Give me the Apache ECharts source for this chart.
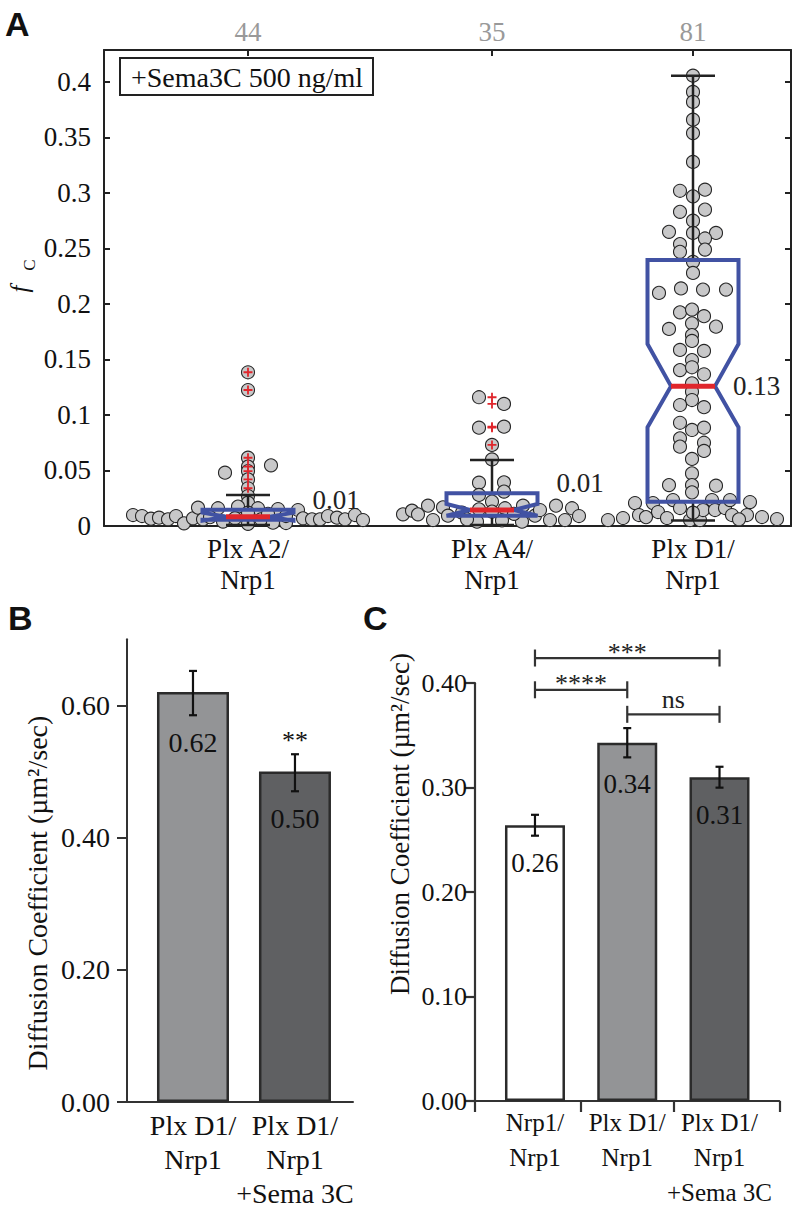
<!DOCTYPE html>
<html><head><meta charset="utf-8">
<script src="https://cdn.jsdelivr.net/npm/echarts@6/dist/echarts.min.js"></script>
<style>html,body{margin:0;padding:0;background:#fff}#c{width:793px;height:1210px}</style>
</head><body><div id="c"></div>
<script>
// ---------------- Panel A data ----------------
const groupsA = ['Plx A2/\nNrp1', 'Plx A4/\nNrp1', 'Plx D1/\nNrp1'];
const posA = [1.44, 3.88, 5.89];
const countsA = ['44', '35', '81'];
const yTicksA = [0, 0.05, 0.1, 0.15, 0.2, 0.25, 0.3, 0.35, 0.4];
// [whiskerLow, q1, notchLow, median, notchHigh, q3, whiskerHigh]
const boxA2 = [0.001, 0.0057, 0.0048, 0.0084, 0.012, 0.0147, 0.028];
const boxA4 = [0.001, 0.0093, 0.0093, 0.0144, 0.0198, 0.0294, 0.0595];
const boxD1 = [0.005, 0.0219, 0.089, 0.126, 0.164, 0.2396, 0.4057];
const medianLabelsA = ['0.01', '0.01', '0.13'];
const outliersA2 = [0.1385, 0.1225, 0.0615, 0.0535, 0.0495, 0.042, 0.034];
const outliersA4 = [0.116, 0.110, 0.0886, 0.0895, 0.073];
const outliersD1 = [];
// swarm points: [horizontal jitter from group centre, fc value]
const swarmA2 = [
  [0,0.1385],[0,0.1225],[0,0.0615],[0,0.0535],[0,0.0495],[0,0.042],[0,0.034],[0,0.027],[0,0.021],
  [-0.23,0.048],[0.23,0.0547],
  [-1.15,0.0099],[-1.06,0.009],[-0.97,0.0066],[-0.89,0.0075],[-0.80,0.006],[-0.72,0.009],[-0.64,0.0024],
  [-0.55,0.0069],[-0.50,0.0165],[-0.45,0.006],[-0.30,0.016],[0.10,0.016],[0.30,0.0153],[0.38,0.0027],
  [0.50,0.0144],[0.55,0.0069],[0.64,0.006],[0.72,0.006],[0.80,0.009],[0.89,0.0075],[0.97,0.006],
  [1.07,0.0099],[1.15,0.0054],
  [-0.10,0.0175],[0,0.012],[-0.38,0.008],[-0.25,0.004],[-0.13,0.007],[0,0.002],[0.13,0.006],
  [0.25,0.003],[0.38,0.009],[0.20,0.011]
];
const swarmA4 = [
  [-0.13,0.116],[0.12,0.110],[-0.13,0.0886],[0.12,0.0895],[0,0.073],[0,0.060],[-0.13,0.039],
  [0.12,0.0393],[0.12,0.031],[-0.13,0.028],[0,0.022],
  [-0.89,0.0105],[-0.80,0.0138],[-0.74,0.0105],[-0.64,0.0183],[-0.59,0.0054],[-0.49,0.0168],
  [-0.44,0.0093],[-0.15,0.0039],[0.30,0.0039],[0.31,0.0183],[0.43,0.0093],[0.48,0.0144],
  [0.58,0.0054],[0.64,0.0183],[0.73,0.0054],[0.80,0.016],[0.87,0.009],
  [-0.30,0.012],[-0.13,0.015],[0,0.013],[0.13,0.016],[-0.25,0.006],[0.10,0.005],[0.22,0.011]
];
const swarmD1 = [
  [0,0.4057],[0,0.391],[0,0.382],[0,0.366],[0,0.354],[0,0.328],
  [-0.13,0.302],[0.12,0.303],[0,0.297],
  [-0.13,0.283],[0.12,0.285],[0,0.275],
  [0,0.264],[-0.24,0.265],[0.23,0.264],
  [-0.13,0.254],[0.12,0.259],[-0.13,0.247],[0.12,0.249],
  [0,0.238],[0,0.228],
  [-0.34,0.210],[-0.12,0.214],[0.10,0.213],[0.33,0.213],
  [-0.13,0.1925],[-0.01,0.195],[0.11,0.189],
  [-0.24,0.1775],[-0.01,0.1826],[0.23,0.1796],
  [-0.01,0.172],[-0.01,0.1667],
  [-0.13,0.1586],[0.11,0.1577],
  [-0.01,0.1495],
  [-0.13,0.1405],[-0.01,0.143],[0.11,0.1367],
  [-0.01,0.1285],[-0.01,0.121],[-0.01,0.1135],
  [-0.13,0.109],[0.11,0.107],
  [-0.13,0.093],[-0.01,0.0865],[0.11,0.0886],
  [-0.13,0.079],[-0.13,0.0715],[0.11,0.075],[0.11,0.0676],
  [-0.01,0.0604],[-0.01,0.0474],
  [-0.24,0.0369],[-0.01,0.0369],[0.23,0.0363],[-0.01,0.0303],
  [-0.85,0.0054],[-0.70,0.0072],[-0.58,0.0207],[-0.54,0.0099],[-0.40,0.0207],[-0.35,0.0126],
  [-0.26,0.0072],[-0.20,0.0234],[-0.13,0.0162],[-0.03,0.0054],[0.07,0.0054],[0.10,0.0144],
  [0.19,0.0234],[0.22,0.0144],[0.32,0.0162],[0.37,0.0234],[0.39,0.0099],[0.54,0.0099],
  [0.57,0.0216],[0.69,0.0081],[0.84,0.0063],
  [-0.47,0.008],[0,0.012],[0.46,0.006]
];

// ---------------- Panel B data ----------------
const groupsB = ['Plx D1/\nNrp1', 'Plx D1/\nNrp1\n+Sema 3C'];
const posB = [1, 2];
const meansB = [0.62, 0.50];
const errLowB = [0.585, 0.470];
const errHighB = [0.652, 0.526];
const sigB = ['', '**'];
const yTicksB = [0, 0.2, 0.4, 0.6];

// ---------------- Panel C data ----------------
const groupsC = ['Nrp1/\nNrp1', 'Plx D1/\nNrp1', 'Plx D1/\nNrp1\n+Sema 3C'];
const posC = [1, 2, 3];
const meansC = [0.264, 0.343, 0.310];
const errLowC = [0.254, 0.329, 0.300];
const errHighC = [0.274, 0.357, 0.320];
const yTicksC = [0, 0.1, 0.2, 0.3, 0.4];
const xTicksC = [0.35, 1.5, 2.5, 3.648];
// brackets: [from group, to group, height]
const bracketsC = [[1, 3, 0.4241], [1, 2, 0.3937], [2, 3, 0.3702]];
const bracketTextC = ['***', '****', 'ns'];

// ---------------- styles ----------------
const SERIF = "'Liberation Serif', 'Times New Roman', serif";
const SANS = "'Liberation Sans', Arial, sans-serif";
const INK = '#222';
const BLUE = '#4152a3';
const RED = '#e0262c';
const BOX_HALF = 45.5, NOTCH_HALF = 22, CAP_HALF = 22;

const chart = echarts.init(document.getElementById('c'), null, {renderer: 'svg'});

function fmtTick(v) { return String(+v.toFixed(2)); }

const swarms = [swarmA2, swarmA4, swarmD1];
const scatterData = [];
swarms.forEach((arr, gi) => arr.forEach(p => scatterData.push([posA[gi] + p[0], p[1]])));
const outlierData = [];
[outliersA2, outliersA4, outliersD1].forEach((arr, gi) => arr.forEach(v => outlierData.push([posA[gi], v])));
const boxData = [boxA2, boxA4, boxD1].map((s, i) => [posA[i]].concat(s));

function tstyle(text, font, align, fill) {
  return {text: text, font: font, fill: fill || '#111', align: align, verticalAlign: 'middle',
          textAlign: align, textVerticalAlign: 'middle'};
}

function renderBox(params, api) {
  const c = api.value(0);
  const wLo = api.value(1), q1 = api.value(2), nLo = api.value(3), med = api.value(4),
        nHi = api.value(5), q3 = api.value(6), wHi = api.value(7);
  const cx = api.coord([c, med])[0];
  const y = v => api.coord([c, v])[1];
  const L = cx - BOX_HALF, R = cx + BOX_HALF;
  const pts = [[L, y(q1)], [R, y(q1)], [R, y(nLo)], [cx + NOTCH_HALF, y(med)], [R, y(nHi)], [R, y(q3)],
               [L, y(q3)], [L, y(nHi)], [cx - NOTCH_HALF, y(med)], [L, y(nLo)]];
  const tall = (q3 - q1) > 0.05;
  const lx = tall ? cx + NOTCH_HALF + 18 : cx + BOX_HALF + 19;
  const ly = tall ? y(med) : y(q3) - 10;
  const lineStyle = {stroke: INK, lineWidth: 2.5};
  return {
    type: 'group',
    children: [
      {type: 'line', shape: {x1: cx, y1: y(q3), x2: cx, y2: y(wHi)}, style: lineStyle},
      {type: 'line', shape: {x1: cx - CAP_HALF, y1: y(wHi), x2: cx + CAP_HALF, y2: y(wHi)}, style: lineStyle},
      {type: 'line', shape: {x1: cx, y1: y(q1), x2: cx, y2: y(wLo)}, style: lineStyle},
      {type: 'line', shape: {x1: cx - CAP_HALF, y1: y(wLo), x2: cx + CAP_HALF, y2: y(wLo)}, style: lineStyle},
      {type: 'polygon', shape: {points: pts}, style: {fill: 'none', stroke: BLUE, lineWidth: 4, lineJoin: 'miter'}},
      {type: 'line', shape: {x1: cx - NOTCH_HALF, y1: y(med), x2: cx + NOTCH_HALF, y2: y(med)},
       style: {stroke: RED, lineWidth: 5}},
      {type: 'text', x: lx, y: ly, style: tstyle(medianLabelsA[params.dataIndex], '27px ' + SERIF, 'left', INK)}
    ]
  };
}

function makeErrRender(means, lo, hi, sig, fontSize) {
  return function (params, api) {
    const i = params.dataIndex;
    const p = api.value(0);
    const a = api.coord([p, lo[i]]), b = api.coord([p, hi[i]]);
    const st = {stroke: '#111', lineWidth: 2.2};
    const kids = [
      {type: 'line', shape: {x1: a[0], y1: a[1], x2: b[0], y2: b[1]}, style: st},
      {type: 'line', shape: {x1: a[0] - 4, y1: a[1], x2: a[0] + 4, y2: a[1]}, style: st},
      {type: 'line', shape: {x1: b[0] - 4, y1: b[1], x2: b[0] + 4, y2: b[1]}, style: st},
      {type: 'text', x: a[0], y: a[1] + 27, style: tstyle(means[i].toFixed(2), fontSize + 'px ' + SERIF, 'center')}
    ];
    if (sig && sig[i]) {
      kids.push({type: 'text', x: b[0], y: b[1] - 14, style: tstyle(sig[i], '26px ' + SERIF, 'center')});
    }
    return {type: 'group', children: kids};
  };
}

function renderBracket(params, api) {
  const i = params.dataIndex;
  const a = api.coord([api.value(0), api.value(2)]);
  const b = api.coord([api.value(1), api.value(2)]);
  const st = {stroke: '#333', lineWidth: 2.2};
  const t = bracketTextC[i];
  const isStar = t.indexOf('*') >= 0;
  return {type: 'group', children: [
    {type: 'line', shape: {x1: a[0], y1: a[1], x2: b[0], y2: b[1]}, style: st},
    {type: 'line', shape: {x1: a[0], y1: a[1] - 8.5, x2: a[0], y2: a[1] + 8.5}, style: st},
    {type: 'line', shape: {x1: b[0], y1: b[1] - 8.5, x2: b[0], y2: b[1] + 8.5}, style: st},
    {type: 'text', x: (a[0] + b[0]) / 2, y: a[1] - (isStar ? 6 : 15), style: tstyle(t, '26px ' + SERIF, 'center', '#222')}
  ]};
}

function gtext(x, y, text, font, align, rotation) {
  return {type: 'text', x: x, y: y, rotation: rotation || 0, style: tstyle(text, font, align || 'center')};
}

const axisLineA = {show: true, onZero: false, lineStyle: {color: INK, width: 2}};
const lblFont = {color: '#111', fontFamily: SERIF};

const option = {
  animation: false,
  backgroundColor: '#fff',
  textStyle: {fontFamily: SERIF},
  grid: [
    {left: 104, top: 50, width: 687, height: 476},
    {left: 127, top: 639.2, width: 226, height: 464.8},
    {left: 475, top: 683.2, width: 304.3, height: 420.7}
  ],
  xAxis: [
    {gridIndex: 0, type: 'value', min: 0, max: 6.87, position: 'bottom',
     axisLine: axisLineA, splitLine: {show: false},
     axisTick: {show: true, inside: true, length: 6, customValues: posA, lineStyle: {color: INK, width: 2}},
     axisLabel: Object.assign({customValues: posA, margin: 7, fontSize: 27, lineHeight: 31,
                 formatter: v => groupsA[posA.indexOf(v)]}, lblFont)},
    {gridIndex: 0, type: 'value', min: 0, max: 6.87, position: 'top',
     axisLine: axisLineA, splitLine: {show: false},
     axisTick: {show: true, inside: true, length: 6, customValues: posA, lineStyle: {color: INK, width: 2}},
     axisLabel: {customValues: posA, margin: 5, color: '#999', fontFamily: SERIF, fontSize: 27,
                 formatter: v => countsA[posA.indexOf(v)]}},
    {gridIndex: 1, type: 'value', min: 0.353, max: 2.569,
     axisLine: {show: true, onZero: false, lineStyle: {color: '#333', width: 2}}, splitLine: {show: false},
     axisTick: {show: false},
     axisLabel: Object.assign({customValues: posB, margin: 6, fontSize: 28, lineHeight: 34,
                 formatter: v => groupsB[posB.indexOf(v)]}, lblFont)},
    {gridIndex: 2, type: 'value', min: 0.35, max: 3.648,
     axisLine: {show: true, onZero: false, lineStyle: {color: '#333', width: 2.2}}, splitLine: {show: false},
     axisTick: {show: true, length: 11, customValues: xTicksC, lineStyle: {color: '#333', width: 2.2}},
     axisLabel: Object.assign({customValues: posC, margin: 4, fontSize: 25, lineHeight: 35,
                 formatter: v => groupsC[posC.indexOf(v)]}, lblFont)}
  ],
  yAxis: [
    {gridIndex: 0, type: 'value', min: 0, max: 0.4288, position: 'left',
     axisLine: axisLineA, splitLine: {show: false},
     axisTick: {show: true, inside: true, length: 6, customValues: yTicksA, lineStyle: {color: INK, width: 2}},
     axisLabel: Object.assign({customValues: yTicksA, margin: 13, fontSize: 27, formatter: fmtTick}, lblFont)},
    {gridIndex: 0, type: 'value', min: 0, max: 0.4288, position: 'right',
     axisLine: axisLineA, splitLine: {show: false},
     axisTick: {show: true, inside: true, length: 6, customValues: yTicksA, lineStyle: {color: INK, width: 2}},
     axisLabel: {show: false}},
    {gridIndex: 1, type: 'value', min: 0, max: 0.7,
     axisLine: {show: true, onZero: false, lineStyle: {color: '#333', width: 2}}, splitLine: {show: false},
     axisTick: {show: true, length: 10, customValues: yTicksB, lineStyle: {color: '#333', width: 2}},
     axisLabel: Object.assign({customValues: yTicksB, margin: 17, fontSize: 28,
                 formatter: v => v.toFixed(2)}, lblFont)},
    {gridIndex: 2, type: 'value', min: 0, max: 0.4,
     axisLine: {show: true, onZero: false, lineStyle: {color: '#333', width: 2.2}}, splitLine: {show: false},
     axisTick: {show: true, length: 10, customValues: yTicksC, lineStyle: {color: '#333', width: 2.2}},
     axisLabel: Object.assign({customValues: yTicksC, margin: 8, fontSize: 26,
                 formatter: v => v.toFixed(2)}, lblFont)}
  ],
  series: [
    {type: 'scatter', xAxisIndex: 0, yAxisIndex: 0, data: scatterData, symbol: 'circle', symbolSize: 13,
     clip: false, z: 2,
     itemStyle: {color: '#c8c8c9', borderColor: '#262626', borderWidth: 1.1, opacity: 1}},
    {type: 'custom', xAxisIndex: 0, yAxisIndex: 0, data: boxData, renderItem: renderBox, clip: false, z: 3,
     encode: {x: 0, y: [1, 7]}},
    {type: 'scatter', xAxisIndex: 0, yAxisIndex: 0, data: outlierData, clip: false, z: 4,
     symbol: 'path://M4,0H6V4H10V6H6V10H4V6H0V4H4Z', symbolSize: 9,
     itemStyle: {color: RED, opacity: 1}},
    {type: 'bar', xAxisIndex: 2, yAxisIndex: 2, barWidth: 72, z: 2,
     data: meansB.map((m, i) => ({value: [posB[i], m], itemStyle: {color: ['#939496', '#5f6062'][i]}})),
     itemStyle: {borderColor: '#2b2b2b', borderWidth: 2.5}},
    {type: 'custom', xAxisIndex: 2, yAxisIndex: 2, clip: false, z: 3,
     data: meansB.map((m, i) => [posB[i], m]), encode: {x: 0, y: 1},
     renderItem: makeErrRender(meansB, errLowB, errHighB, sigB, 28)},
    {type: 'bar', xAxisIndex: 3, yAxisIndex: 3, barWidth: 60, z: 2,
     data: meansC.map((m, i) => ({value: [posC[i], m], itemStyle: {color: ['#ffffff', '#939496', '#5f6062'][i]}})),
     itemStyle: {borderColor: '#2b2b2b', borderWidth: 2.5}},
    {type: 'custom', xAxisIndex: 3, yAxisIndex: 3, clip: false, z: 3,
     data: meansC.map((m, i) => [posC[i], m]), encode: {x: 0, y: 1},
     renderItem: makeErrRender(meansC, errLowC, errHighC, null, 27)},
    {type: 'custom', xAxisIndex: 3, yAxisIndex: 3, clip: false, z: 3,
     data: bracketsC, encode: {x: [0, 1], y: 2}, renderItem: renderBracket}
  ],
  graphic: [
    gtext(5, 24, 'A', 'bold 34px ' + SANS, 'left'),
    gtext(8, 618, 'B', 'bold 34px ' + SANS, 'left'),
    gtext(363, 618, 'C', 'bold 34px ' + SANS, 'left'),
    {type: 'rect', shape: {x: 120, y: 58, width: 253, height: 37}, style: {fill: '#fff', stroke: INK, lineWidth: 2}, z: 10},
    Object.assign(gtext(131, 77, '+Sema3C 500 ng/ml', '28px ' + SERIF, 'left'), {z: 11}),
    gtext(19, 289, 'f', 'italic 25px ' + SERIF, 'center', Math.PI / 2),
    gtext(29, 265, 'C', '17px ' + SERIF, 'center', Math.PI / 2),
    gtext(37, 893, 'Diffusion Coefficient (µm²/sec)', '28px ' + SERIF, 'center', Math.PI / 2),
    gtext(400, 824, 'Diffusion Coefficient (µm²/sec)', '27px ' + SERIF, 'center', Math.PI / 2)
  ]
};
chart.setOption(option);
</script>
</body></html>
